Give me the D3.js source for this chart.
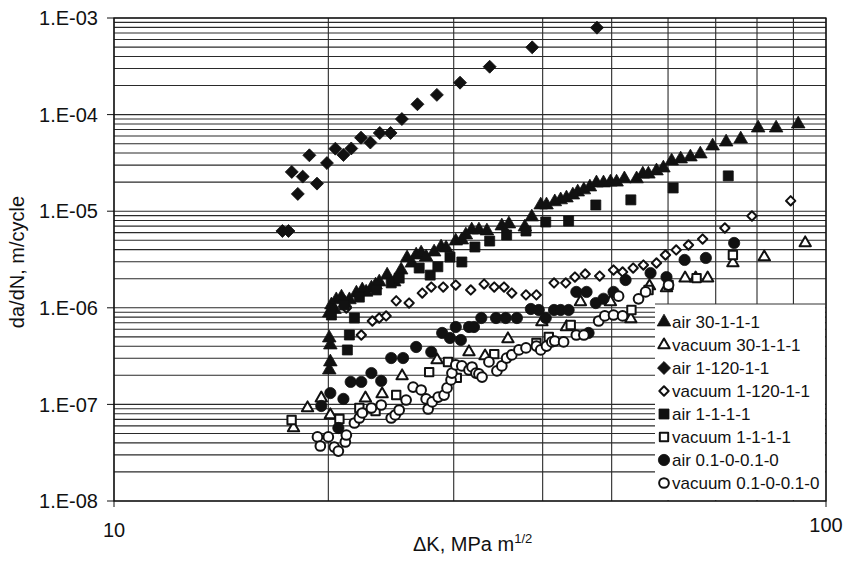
<!DOCTYPE html>
<html><head><meta charset="utf-8">
<script src="https://cdn.jsdelivr.net/npm/d3@7"></script>
<style>body{margin:0;background:#fff}svg{display:block}text{font-family:"Liberation Sans",Arial,sans-serif;fill:#111}</style>
</head><body>
<svg id="c" width="850" height="567"></svg>
<script>
// ---- data: [ΔK (MPa m^1/2), da/dN (m/cycle)] ----
const air30 = [[20.06,2.27e-7],[20.13,2.75e-7],[20.13,4.12e-7],[20.06,4.87e-7],[20.06,8.84e-7],[20.2,1.07e-6],[20.4,9.6e-7],[20.52,1.21e-6],[20.87,1.29e-6],[21.1,1.12e-6],[21.41,1.21e-6],[21.9,1.42e-6],[22.32,1.53e-6],[22.6,1.45e-6],[22.99,1.6e-6],[23.3,1.72e-6],[23.58,1.85e-6],[24.19,2.18e-6],[24.75,1.85e-6],[25.31,2.46e-6],[25.8,3.28e-6],[26.2,2.9e-6],[26.57,3.52e-6],[27.0,3.69e-6],[27.44,3.35e-6],[28.16,3.78e-6],[28.8,4.26e-6],[29.27,4.16e-6],[30.2,4.91e-6],[30.8,5.03e-6],[31.2,5.67e-6],[31.8,6.39e-6],[32.55,6.39e-6],[33.4,6.24e-6],[35.05,7.03e-6],[35.86,7.37e-6],[37.76,6.86e-6],[38.62,8.71e-6],[39.75,1.16e-5],[40.5,1.16e-5],[41.6,1.25e-5],[42.4,1.31e-5],[43.2,1.37e-5],[44.1,1.47e-5],[44.8,1.58e-5],[45.7,1.66e-5],[46.6,1.78e-5],[47.6,1.96e-5],[48.7,1.96e-5],[49.8,2.0e-5],[50.8,2.0e-5],[52.1,2.16e-5],[54.2,2.16e-5],[55.3,2.42e-5],[56.3,2.42e-5],[57.8,2.61e-5],[59.1,2.8e-5],[60.7,3.31e-5],[62.5,3.47e-5],[64.5,3.64e-5],[66.6,3.91e-5],[69.3,4.73e-5],[72.4,5.2e-5],[75.9,5.59e-5],[80.3,7.26e-5],[85.1,7.26e-5],[91.4,7.99e-5]];
const vac30 = [[17.87,5.7e-8],[18.7,9.18e-8],[19.55,1.16e-7],[20.13,7.77e-8],[22.55,1.16e-7],[23.8,1.28e-7],[25.39,1.97e-7],[28.43,2.88e-7],[31.52,3.49e-7],[33.2,3.17e-7],[35.75,4.76e-7],[39.9,7.13e-7],[43.2,6.33e-7],[45.2,1.15e-6],[49.8,1.15e-6],[53.2,7.66e-7],[56.5,1.68e-6],[59.7,1.6e-6],[63.4,2.03e-6],[65.6,2.03e-6],[68.2,2.03e-6],[74.0,2.91e-6],[81.9,3.35e-6],[93.5,4.69e-6]];
const air120 = [[17.24,6.24e-6],[17.58,6.24e-6],[17.77,2.55e-5],[18.12,1.51e-5],[18.41,2.28e-5],[18.81,3.79e-5],[19.28,1.93e-5],[19.91,3.15e-5],[20.46,4.44e-5],[21.0,3.82e-5],[21.54,4.46e-5],[22.23,5.77e-5],[22.91,5.14e-5],[23.62,6.45e-5],[24.46,6.45e-5],[25.37,9.0e-5],[26.68,1.28e-4],[28.41,1.6e-4],[30.62,2.14e-4],[33.7,3.13e-4],[38.67,4.97e-4],[47.68,7.94e-4]];
const vac120 = [[21.2,9.95e-7],[22.25,5.23e-7],[23.06,7.3e-7],[23.58,7.84e-7],[24.11,8.23e-7],[24.91,1.18e-6],[25.97,1.12e-6],[27.1,1.42e-6],[27.9,1.64e-6],[29.0,1.64e-6],[30.2,1.72e-6],[31.7,1.53e-6],[33.1,1.76e-6],[34.2,1.64e-6],[35.3,1.64e-6],[36.2,1.42e-6],[37.9,1.36e-6],[39.2,1.36e-6],[41.5,1.81e-6],[43.1,1.81e-6],[44.4,2.08e-6],[45.9,2.24e-6],[48.1,2.13e-6],[50.3,2.46e-6],[51.8,2.35e-6],[53.6,2.58e-6],[55.4,2.77e-6],[57.8,2.91e-6],[59.5,3.52e-6],[61.6,3.97e-6],[64.1,4.47e-6],[67.1,5.15e-6],[72.1,6.7e-6],[78.7,8.92e-6],[89.2,1.28e-5]];
const air111 = [[21.27,3.66e-7],[21.41,5.23e-7],[21.76,7.84e-7],[20.2,8.42e-7],[21.06,1.07e-6],[22.11,1.29e-6],[23.36,1.53e-6],[24.51,1.81e-6],[25.15,2.03e-6],[26.83,2.58e-6],[27.8,2.18e-6],[28.5,2.66e-6],[29.64,3.35e-6],[30.8,2.98e-6],[32.13,4.26e-6],[33.7,4.91e-6],[35.6,5.67e-6],[37.9,6.24e-6],[40.4,7.73e-6],[43.5,7.92e-6],[47.5,1.16e-5],[53.2,1.31e-5],[61.0,1.74e-5],[72.9,2.32e-5]];
const vac111 = [[17.76,6.89e-8],[20.73,7.06e-8],[22.11,9.18e-8],[23.3,8.55e-8],[24.91,1.25e-7],[27.71,2.16e-7],[29.45,2.75e-7],[30.3,1.88e-7],[34.2,3.32e-7],[39.2,4.32e-7],[40.8,4.99e-7],[43.8,6.64e-7],[53.3,9.49e-7],[56.33,1.53e-6],[60.1,1.72e-6],[65.8,2.03e-6],[74.0,3.52e-6]];
const air01 = [[19.55,9.63e-8],[20.13,1.31e-7],[20.66,5.7e-8],[21.0,1.14e-7],[21.5,1.71e-7],[22.25,1.71e-7],[22.99,2.11e-7],[23.73,1.75e-7],[24.51,3.02e-7],[25.47,3.02e-7],[26.57,3.93e-7],[27.9,3.49e-7],[28.9,5.49e-7],[29.64,4.87e-7],[30.2,6.33e-7],[30.7,4.64e-7],[31.52,6.33e-7],[32.03,6.33e-7],[32.8,7.84e-7],[34.4,7.84e-7],[35.5,7.84e-7],[36.8,7.84e-7],[38.5,9.72e-7],[39.5,9.49e-7],[40.4,7.84e-7],[41.5,9.49e-7],[42.4,9.49e-7],[43.5,9.49e-7],[44.6,1.46e-6],[46.1,1.46e-6],[46.4,5.49e-7],[47.5,1.12e-6],[48.7,1.24e-6],[50.3,1.46e-6],[52.3,1.94e-6],[56.7,2.29e-6],[59.7,2.08e-6],[63.3,3.13e-6],[67.8,3.28e-6],[74.3,4.69e-6]];
const vac01 = [[19.31,4.6e-8],[19.49,3.71e-8],[20.0,4.6e-8],[20.39,3.62e-8],[20.66,3.29e-8],[21.13,4.08e-8],[21.2,4.82e-8],[21.76,6.42e-8],[22.11,7.23e-8],[22.32,8.15e-8],[22.99,9.18e-8],[23.73,9.86e-8],[24.51,7.23e-8],[24.83,7.77e-8],[25.15,8.75e-8],[25.72,1.11e-7],[26.31,1.51e-7],[27.0,1.41e-7],[27.44,1.14e-7],[27.62,8.96e-8],[27.98,1.06e-7],[28.53,1.19e-7],[29.08,1.25e-7],[29.36,1.48e-7],[29.74,1.79e-7],[29.83,2.11e-7],[30.2,2.56e-7],[30.8,2.5e-7],[31.52,2.27e-7],[31.83,2.44e-7],[32.24,2.11e-7],[32.55,2.07e-7],[32.88,1.92e-7],[33.62,2.75e-7],[34.5,2.22e-7],[35.05,2.5e-7],[35.6,3.02e-7],[36.2,3.25e-7],[37.04,3.66e-7],[37.9,3.84e-7],[39.2,4.02e-7],[39.75,3.66e-7],[40.5,4.02e-7],[41.2,4.43e-7],[41.6,4.53e-7],[42.8,4.43e-7],[44.6,5.23e-7],[45.7,5.23e-7],[47.94,7.3e-7],[48.9,8.23e-7],[50.3,8.42e-7],[51.8,8.23e-7],[51.13,1.32e-6],[54.54,1.24e-6],[55.8,1.46e-6],[60.1,1.72e-6]];

const seriesNames = ["air 30-1-1-1","vacuum 30-1-1-1","air 1-120-1-1","vacuum 1-120-1-1","air 1-1-1-1","vacuum 1-1-1-1","air 0.1-0-0.1-0","vacuum 0.1-0-0.1-0"];
const seriesData = [air30, vac30, air120, vac120, air111, vac111, air01, vac01];
const xTickLabels = [10, 100];
const yTickValues = [1e-8,1e-7,1e-6,1e-5,1e-4,1e-3];

// ---- drawing ----
const svg = d3.select("#c");
const L = 114, R = 826, T = 18, B = 501;
const x = d3.scaleLog().domain([10,100]).range([L,R]);
const y = d3.scaleLog().domain([1e-8,1e-3]).range([B,T]);

const grid = svg.append("g").attr("stroke","#2a2a2a").attr("stroke-width",1.1);
grid.selectAll("line.h").data(y.ticks()).join("line")
  .attr("x1",L).attr("x2",R).attr("y1",d=>y(d)).attr("y2",d=>y(d));
grid.selectAll("line.v").data(x.ticks()).join("line")
  .attr("x1",d=>x(d)).attr("x2",d=>x(d)).attr("y1",T).attr("y2",B);

svg.append("rect").attr("x",L).attr("y",T).attr("width",R-L).attr("height",B-T)
  .attr("fill","none").attr("stroke","#111").attr("stroke-width",1.3);

// y ticks & labels
svg.append("g").selectAll("line").data(yTickValues).join("line")
  .attr("x1",L-7).attr("x2",L).attr("y1",d=>y(d)).attr("y2",d=>y(d)).attr("stroke","#111");
const fmt = d => "1.E-" + String(Math.round(-Math.log10(d))).padStart(2,"0");
svg.append("g").selectAll("text").data(yTickValues).join("text")
  .attr("x",98).attr("y",d=>y(d)).attr("dy","0.36em").attr("text-anchor","end")
  .attr("font-size",20).text(fmt);

// x ticks & labels
svg.append("g").selectAll("line").data(xTickLabels).join("line")
  .attr("x1",d=>x(d)).attr("x2",d=>x(d)).attr("y1",B).attr("y2",B+6).attr("stroke","#111");
svg.append("g").selectAll("text").data(xTickLabels).join("text")
  .attr("x",d=>x(d)).attr("y",d=>d===10?537:532).attr("text-anchor","middle")
  .attr("font-size",20).text(d=>d);

// axis titles
const xt = svg.append("text").attr("x",413).attr("y",551).attr("font-size",20);
xt.append("tspan").text("\u0394K, MPa m");
xt.append("tspan").attr("dy",-8).attr("font-size",13).text("1/2");
svg.append("text").attr("transform","translate(24,262) rotate(-90)")
  .attr("text-anchor","middle").attr("font-size",20).text("da/dN, m/cycle");

// markers
const shapes = [
  {t:d3.symbolTriangle, s:80, fill:true, rot:0},
  {t:d3.symbolTriangle, s:56, fill:false, rot:0},
  {t:d3.symbolSquare, s:84, fill:true, rot:45},
  {t:d3.symbolSquare, s:44, fill:false, rot:45},
  {t:d3.symbolSquare, s:100, fill:true, rot:0},
  {t:d3.symbolSquare, s:70, fill:false, rot:0},
  {t:d3.symbolCircle, s:100, fill:true, rot:0},
  {t:d3.symbolCircle, s:74, fill:false, rot:0}
];
function mark(sel, sh){
  sel.attr("d", d3.symbol().type(sh.t).size(sh.s)())
    .attr("fill", sh.fill ? "#111" : "#fff")
    .attr("stroke", "#111")
    .attr("stroke-linejoin","round")
    .attr("stroke-width", sh.fill ? 0.8 : 2);
}
const pts = svg.append("g");
seriesData.forEach((ser,i)=>{
  const sh = shapes[i];
  pts.append("g").selectAll("path").data(ser).join("path")
    .attr("transform", d=>`translate(${x(d[0])},${y(d[1])}) rotate(${sh.rot})`)
    .call(mark, sh);
});

// legend
const lg = svg.append("g");
lg.append("rect").attr("x",655).attr("y",304).attr("width",R-655-1).attr("height",B-304-1).attr("fill","#fff");
lg.append("line").attr("x1",655).attr("x2",R).attr("y1",304).attr("y2",304).attr("stroke","#333");
seriesNames.forEach((n,i)=>{
  const cy = 322 + i*23.0;
  const sh = shapes[i];
  lg.append("path").attr("transform",`translate(664,${cy}) rotate(${sh.rot})`).call(mark, sh);
  lg.append("text").attr("x",672).attr("y",cy).attr("dy","0.36em").attr("font-size",17).text(n);
});
</script>
</body></html>
